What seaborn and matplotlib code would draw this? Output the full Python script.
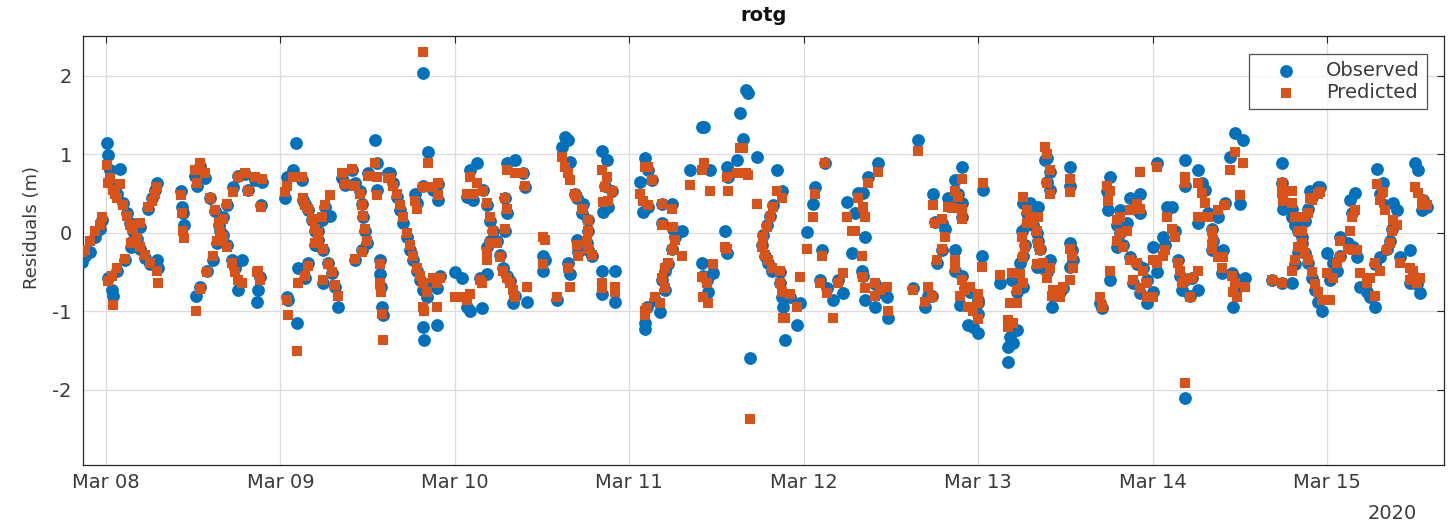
import matplotlib
matplotlib.use("Agg")
import matplotlib.pyplot as plt
import pandas as pd
import seaborn as sns

# hours since 2020-03-08 00:00
hours = [
    -3.3, -2.9, -2.2, -1.5, -0.8, -0.55,
    0.14, 0.28, 0.55, 0.96, 1.24, 1.5, 1.93, 2.3, 2.9, 3.3, 3.7, 4.3, 4.7, 5.4, 6.1, 7.0, 7.2,
    0.3, 0.8, 0.96, 1.5, 2.6, 3.4, 3.7, 4.7, 5.8, 6.4, 6.7, 7.0,
    10.3, 10.5, 10.6, 10.8,
    12.3, 12.9, 13.6, 12.5, 14.3, 15.0, 15.6, 16.1, 16.6, 17.4, 17.8,
    12.4, 12.9, 13.9, 14.7, 15.3, 15.7, 16.1, 16.7, 17.5,
    18.2, 19.1, 19.5, 20.5, 21.5, 21.3, 18.2, 18.7, 20.8, 20.9, 21.2,
    24.6, 24.9, 25.7, 27.0, 27.1, 24.9, 25.0, 26.3, 26.2,
    27.4, 27.8, 28.3, 28.8, 29.2, 29.9, 30.5, 31.1, 31.5, 31.9,
    26.4, 27.4, 27.8, 28.8, 29.2, 29.7, 30.1, 30.8, 29.9,
    32.5, 32.9, 33.9, 34.3, 35.0, 35.2, 35.4, 35.6, 35.9, 35.2, 34.3, 36.1,
    37.0, 37.3, 37.3, 38.8, 37.7, 37.7, 37.8, 38.0, 38.1,
    39.1, 39.5, 40.0, 40.5, 40.9, 41.4, 41.8, 42.2, 42.8, 43.2, 43.6, 44.2, 42.5, 42.8,
    43.6, 44.3, 43.6, 45.0, 45.7, 45.7, 43.6, 43.7, 45.6, 45.0, 45.5, 46.0,
    48.0, 49.0, 49.7, 50.1, 51.7, 51.5, 52.4, 52.4, 52.8,
    50.1, 51.0, 49.7, 50.5,
    51.9, 52.4, 52.8, 53.2, 53.8, 54.2, 54.6, 55.2, 55.6, 56.0, 56.3, 57.9,
    55.2, 56.3, 57.4, 57.7, 54.9, 55.2, 54.9,
    60.1, 60.1, 60.4, 62.1, 63.6, 63.8,
    62.8, 63.2, 63.6, 63.9, 64.5, 64.8, 65.5, 65.6, 66.3, 66.3, 66.2, 66.3, 66.9, 64.9, 64.8,
    68.3, 68.9, 68.7, 69.6, 69.1, 68.4, 68.3, 70.0, 68.3, 70.0,
    74.2, 74.6, 75.1, 73.5, 73.9, 74.6, 76.5, 77.9, 76.5, 78.0, 78.3, 77.9, 77.3, 76.9, 76.5, 76.9,
    75.5, 74.4, 76.2, 74.2, 74.2, 79.3, 80.4,
    82.0, 82.3, 83.1, 82.0, 82.2, 82.7, 82.8, 83.5, 85.2, 85.5, 85.5, 85.6, 86.8, 87.2, 87.7, 88.0,
    88.4, 88.6, 89.6,
    92.3, 93.0, 91.8, 91.4, 91.0, 90.4, 90.3, 90.7, 91.1, 91.6, 92.7, 92.7, 93.0, 93.2, 93.4, 95.1,
    95.5, 94.1,
    97.6, 97.3, 96.5, 98.5, 98.9, 98.3, 99.2, 100.0, 100.7, 101.4, 102.0, 102.6, 103.5,
    103.1, 104.2, 104.4, 104.0, 104.9, 106.2, 104.2, 105.8, 106.5, 107.5, 104.4, 105.8, 107.6,
    111.7, 111.0, 113.1, 112.7, 113.7,
    113.8, 114.1, 115.0, 115.9, 116.4, 116.8, 117.2, 117.8, 117.8, 117.8, 115.5, 115.0, 114.4, 116.8,
    116.8, 117.8, 118.2, 117.5, 118.9, 120.0, 120.0, 118.6, 120.0, 120.0, 119.3, 120.7, 120.5,
    123.0, 124.7, 124.4, 124.1, 124.1, 124.8, 125.4, 125.4, 125.8, 126.2, 126.5, 126.0, 126.7, 126.2,
    126.7, 127.1, 127.6, 128.1, 128.2, 128.5, 128.2, 126.2,
    128.1, 128.9, 129.5, 129.9, 130.3, 130.2, 131.3, 131.7, 132.6, 133.1, 132.6, 132.9, 129.2, 129.5,
    129.9, 129.5, 129.9, 132.6, 132.7,
    136.8, 137.1, 138.2, 138.2, 137.7, 137.9, 139.5, 139.1, 139.5, 139.1, 139.9, 140.5, 140.9, 142.3,
    141.9, 142.3, 144.6, 140.9, 141.9, 142.7, 141.3, 142.3, 143.2, 144.1, 143.2, 144.1, 145.4, 144.6,
    146.0,
    145.7, 146.7, 147.1, 147.5, 148.5, 148.5, 147.8, 148.5, 148.1, 149.2, 150.3, 149.4, 148.5,
    150.3, 150.8, 151.2, 151.6, 152.2, 152.3, 152.2, 153.0, 153.7, 153.6, 154.9, 155.4, 155.6, 155.1,
    156.7, 150.3, 153.0, 154.0,
    155.4, 156.5, 154.7, 156.0,
    160.4, 161.8, 161.8, 161.8, 161.9, 163.2, 163.2, 163.6, 164.0, 164.6, 165.0, 165.4, 165.9, 166.4,
    166.8, 167.3, 163.2, 163.6, 164.0, 164.6, 165.0, 165.4, 165.9, 166.8, 167.0, 165.7, 168.0, 168.4,
    168.8, 169.4, 169.8,
    169.8, 170.9, 171.2, 171.5, 171.9, 171.6, 172.1,
    172.6, 173.5, 173.9, 174.6, 174.6, 175.3,
    174.9, 175.7, 175.3, 176.0, 177.1, 177.6, 177.0, 176.7, 176.3, 178.1, 179.4, 179.8, 180.4, 180.8,
    179.4, 180.1, 180.5, 181.2, 181.8, 181.1,
]

observed = [
    -0.37, -0.30, -0.25, -0.05, 0.05, 0.16,
    1.14, 0.99, 0.80, 0.60, 0.55, 0.50, 0.82, 0.38, 0.25, 0.12, 0.03, -0.08, -0.20, -0.32, -0.40, -0.35, -0.45,
    -0.57, -0.73, -0.80, -0.48, -0.35, -0.18, -0.10, 0.08, 0.30, 0.45, 0.55, 0.63,
    0.54, 0.33, 0.25, 0.10,
    0.72, 0.85, 0.70, 0.60, 0.45, 0.28, 0.10, -0.03, -0.15, -0.35, -0.45,
    -0.80, -0.69, -0.48, -0.35, -0.13, 0.03, 0.20, 0.35, 0.58,
    0.72, 0.75, 0.55, 0.68, 0.65, 0.35, -0.73, -0.35, -0.88, -0.73, -0.56,
    0.45, 0.71, 0.80, 0.68, 0.42, -0.82, -0.86, -1.15, 1.15,
    0.37, 0.29, 0.16, 0.03, -0.09, -0.22, -0.39, -0.51, -0.69, -0.95,
    -0.45, -0.57, -0.39, -0.15, 0.03, 0.16, 0.33, 0.22, -0.64,
    0.70, 0.61, 0.80, 0.63, 0.54, 0.37, 0.20, 0.03, -0.13, -0.22, -0.35, 0.76,
    1.18, 0.89, 0.55, 0.76, -0.35, -0.52, -0.69, -0.95, -1.05,
    0.76, 0.63, 0.46, 0.29, 0.12, -0.05, -0.22, -0.35, -0.48, -0.60, -0.73, -0.82, 0.50, 0.38,
    2.04, 1.03, 0.60, 0.55, 0.62, 0.42, -1.20, -1.37, -1.18, -0.64, -0.70, -0.55,
    -0.50, -0.58, -0.95, -0.99, -0.96, -0.57, -0.52, -0.18, -0.10,
    0.80, 0.89, 0.46, 0.42,
    0.55, 0.35, 0.15, 0.03, -0.10, -0.28, -0.45, -0.55, -0.62, -0.90, -0.80, -0.88,
    0.89, 0.93, 0.76, 0.58, 0.45, 0.25, 0.03,
    -0.30, -0.48, -0.35, -0.86, -0.39, -0.52,
    1.09, 1.22, 1.18, 0.90, 0.50, 0.45, 0.25, 0.37, 0.16, 0.03, -0.13, -0.22, -0.30, -0.25, -0.09,
    1.05, 0.93, 0.60, 0.54, 0.33, 0.26, -0.48, -0.48, -0.78, -0.88,
    0.95, 0.80, 0.68, 0.65, 0.26, 0.33, 0.37, 0.37, 0.12, 0.05, -0.05, -0.20, -0.40, -0.48, -0.60, -0.73,
    -0.85, -0.95, -1.01, -1.22, -1.15, 0.03, 0.80,
    1.35, 1.35, 0.80, -0.39, -0.55, -0.60, -0.75, -0.51, 0.03, -0.26, 0.84, 0.71, 0.93, 1.53, 1.20, 1.82,
    1.78, -1.60, 0.97,
    0.80, 0.54, 0.35, 0.22, 0.10, -0.03, -0.15, -0.30, -0.39, -0.48, -0.50, -0.64, -0.82, -0.95, -1.37, -1.18,
    -0.90, -0.82,
    0.58, 0.37, 0.01, -0.22, 0.89, -0.60, -0.70, -0.85, -0.60, -0.77, 0.39, -0.26, 0.51,
    0.25, 0.51, -0.05, -0.48, 0.71, 0.89, -0.55, -0.65, -0.75, -0.82, -0.86, -0.95, -1.09,
    1.18, -0.70, -0.80, -0.95, -0.80,
    0.50, 0.14, 0.12, 0.45, 0.40, 0.67, 0.50, 0.84, 0.38, 0.20, 0.05, -0.22, -0.39, -0.22,
    -0.48, -0.55, -0.70, -0.92, -0.75, -0.85, -0.90, -1.18, -1.03, -1.28, -1.20, 0.55, -0.30,
    -0.64, -0.60, -1.33, -1.46, -1.65, -1.41, -1.24, -0.75, -0.39, -0.30, -0.15, 0.03, 0.10, 0.38,
    0.25, 0.38, 0.10, 0.00, -0.10, -0.20, 0.33, -0.69,
    -0.44, -0.45, -0.50, -0.35, -0.80, -0.95, -0.75, -0.70, -0.44, -0.35, -0.13, -0.22, 0.93, 0.95,
    0.78, 0.65, 0.55, 0.84, 0.60,
    -0.90, -0.96, -0.60, 0.71, 0.54, 0.29, 0.29, 0.10, 0.00, -0.18, -0.15, 0.12, 0.45, 0.50,
    0.29, 0.25, 0.89, -0.31, -0.40, -0.45, -0.64, -0.77, -0.90, -0.75, -0.60, -0.18, -0.05, -0.50,
    0.33,
    -0.15, 0.33, 0.03, -0.35, 0.93, 0.60, -0.55, -0.60, -0.73, -0.80, -0.73, -0.57, -2.11,
    0.80, 0.63, 0.55, 0.25, 0.05, -0.10, -0.22, -0.25, -0.22, -0.51, -0.51, -0.57, -0.70, -0.95,
    -0.58, 0.12, 0.20, 0.38,
    1.27, 1.18, 0.97, 0.37,
    -0.60, -0.64, 0.89, 0.63, 0.31, 0.30, 0.20, 0.10, 0.03, -0.13, -0.26, -0.39, -0.57, -0.73,
    -0.88, -0.99, -0.64, -0.40, -0.25, -0.05, 0.15, 0.30, 0.46, 0.58, 0.58, 0.54, -0.26, -0.60,
    -0.39, -0.48, -0.30,
    -0.05, -0.13, 0.42, 0.25, 0.51, -0.18, -0.31,
    -0.69, -0.75, -0.82, -0.95, -0.40, -0.31,
    0.82, 0.63, 0.50, 0.35, 0.38, 0.29, 0.05, -0.10, -0.20, -0.31, -0.22, -0.55, -0.65, -0.77,
    -0.64, 0.89, 0.80, 0.42, 0.33, 0.29,
]

predicted = [
    -0.25, -0.22, -0.10, 0.03, 0.10, 0.20,
    0.86, 0.63, 0.70, 0.55, 0.50, 0.45, 0.62, 0.36, 0.22, 0.10, 0.05, -0.06, -0.18, -0.28, -0.38, -0.48, -0.64,
    -0.62, -0.55, -0.92, -0.45, -0.33, -0.13, -0.12, 0.12, 0.33, 0.40, 0.50, 0.58,
    0.48, 0.25, 0.03, -0.07,
    0.80, 0.89, 0.76, 0.63, 0.45, 0.29, 0.12, -0.05, -0.18, -0.39, -0.50,
    -0.99, -0.72, -0.50, -0.30, -0.10, 0.00, 0.18, 0.37, 0.52,
    0.71, 0.76, 0.54, 0.71, 0.69, 0.33, -0.60, -0.64, -0.50, -0.48, -0.60,
    0.52, 0.60, 0.71, 0.71, 0.45, -0.86, -1.05, -1.50, 0.71,
    0.35, 0.30, 0.18, 0.05, -0.10, -0.20, -0.40, -0.50, -0.66, -0.80,
    -0.64, -0.55, -0.42, -0.13, 0.00, 0.20, 0.35, 0.48, -0.60,
    0.76, 0.62, 0.82, 0.60, 0.50, 0.35, 0.22, 0.05, -0.10, -0.25, -0.33, 0.72,
    0.89, 0.71, 0.48, 0.70, -0.40, -0.64, -0.75, -1.03, -1.37,
    0.70, 0.60, 0.50, 0.35, 0.20, 0.00, -0.15, -0.30, -0.45, -0.55, -0.64, -0.75, 0.40, 0.30,
    2.30, 0.89, 0.58, 0.58, 0.64, 0.48, -0.95, -1.00, -0.95, -0.57, -0.64, -0.57,
    -0.82, -0.82, -0.86, -0.78, -0.64, -0.60, -0.35, -0.25, -0.13,
    0.71, 0.63, 0.50, 0.50,
    0.54, 0.38, 0.20, 0.03, -0.13, -0.31, -0.48, -0.57, -0.64, -0.73, -0.82, -0.69,
    0.80, 0.76, 0.76, 0.60, 0.45, 0.31, 0.05,
    -0.05, -0.40, -0.09, -0.82, -0.45, -0.69,
    0.97, 0.84, 0.76, 0.67, 0.50, 0.46, 0.30, 0.30, 0.16, 0.03, -0.10, -0.20, -0.28, -0.30, -0.15,
    0.80, 0.71, 0.58, 0.54, 0.40, 0.39, -0.64, -0.69, -0.70, -0.75,
    0.84, 0.84, 0.67, 0.50, 0.40, 0.35, 0.37, 0.30, 0.10, 0.07, -0.09, -0.22, -0.39, -0.45, -0.57, -0.70,
    -0.82, -0.96, -0.90, -1.00, -1.05, -0.30, 0.61,
    0.80, 0.89, 0.54, -0.56, -0.82, -0.64, -0.90, -0.40, -0.18, -0.20, 0.71, 0.54, 0.76, 1.08, 1.08, 0.76,
    0.74, -2.37, 0.37,
    0.54, 0.45, 0.33, 0.20, 0.07, -0.05, -0.18, -0.28, -0.35, -0.45, -0.48, -0.64, -0.75, -1.09, -1.09, -0.95,
    -0.56, -0.78,
    0.50, 0.20, -0.20, -0.30, 0.89, -0.64, -0.77, -1.09, -0.64, -0.51, 0.20, 0.03, 0.45,
    0.03, 0.33, 0.20, -0.30, 0.63, 0.77, -0.56, -0.64, -0.73, -0.69, -0.70, -0.80, -0.99,
    1.05, -0.73, -0.69, -0.88, -0.82,
    0.35, 0.12, 0.18, 0.33, 0.32, 0.54, 0.46, 0.69, 0.30, 0.18, -0.05, -0.20, -0.35, -0.35,
    -0.45, -0.60, -0.73, -0.80, -0.69, -0.78, -0.86, -0.95, -0.90, -1.10, -1.00, 0.63, -0.43,
    -0.54, -0.51, -0.90, -1.11, -1.20, -1.15, -0.90, -0.73, -0.52, -0.31, -0.18, -0.05, 0.12, 0.46,
    0.29, 0.20, 0.12, 0.03, -0.13, -0.22, 0.20, -0.64,
    -0.40, -0.39, -0.57, -0.45, -0.73, -0.80, -0.82, -0.69, -0.60, -0.45, -0.20, -0.30, 1.09, 1.00,
    0.80, 0.63, 0.50, 0.69, 0.52,
    -0.82, -0.95, -0.48, 0.54, 0.60, 0.40, 0.20, 0.16, 0.00, -0.10, -0.18, 0.03, 0.29, 0.77,
    0.37, 0.30, 0.84, -0.35, -0.39, -0.48, -0.60, -0.70, -0.82, -0.82, -0.64, -0.35, -0.30, -0.39,
    0.20,
    -0.22, 0.05, -0.05, -0.39, 0.71, 0.63, -0.48, -0.60, -0.64, -0.82, -0.48, -0.57, -1.92,
    0.63, 0.51, 0.38, 0.20, 0.03, -0.09, -0.20, -0.31, -0.31, -0.45, -0.55, -0.64, -0.82, -0.75,
    -0.69, 0.20, 0.29, 0.35,
    1.03, 0.89, 0.80, 0.48,
    -0.60, -0.64, 0.63, 0.51, 0.40, 0.54, 0.38, 0.20, 0.03, -0.13, -0.26, -0.35, -0.50, -0.65,
    -0.75, -0.86, -0.48, -0.35, -0.18, 0.03, 0.20, 0.25, 0.42, 0.50, 0.52, 0.45, -0.51, -0.86,
    -0.57, -0.39, -0.31,
    -0.10, -0.20, 0.03, 0.20, 0.29, -0.22, -0.22,
    -0.51, -0.64, -0.57, -0.80, -0.39, -0.48,
    0.62, 0.52, 0.42, 0.29, 0.16, 0.10, 0.03, -0.13, -0.22, -0.39, -0.45, -0.48, -0.64, -0.57,
    -0.60, 0.58, 0.51, 0.42, 0.35, 0.36,
]

series_labels = ["Observed", "Predicted"]
day_ticks = ["Mar 08", "Mar 09", "Mar 10", "Mar 11", "Mar 12", "Mar 13", "Mar 14", "Mar 15"]
y_ticks = [-2, -1, 0, 1, 2]

n = min(len(hours), len(observed), len(predicted))

sns.set_theme(style="white")
plt.rcParams["font.family"] = ["DejaVu Sans"]
plt.rcParams["axes.unicode_minus"] = False

t0 = pd.Timestamp("2020-03-08")
df = pd.DataFrame({
    "time": t0 + pd.to_timedelta(hours[:n], unit="h"),
    "Observed": observed[:n],
    "Predicted": predicted[:n],
})

fig = plt.figure(figsize=(14.55, 5.27), dpi=100)
ax = fig.add_axes([0.057, 0.1176, 0.9354, 0.8141])

sns.scatterplot(data=df, x="time", y="Observed", ax=ax, color="#0072BD", marker="o",
                s=85, linewidth=0, label=series_labels[0], zorder=3)
sns.scatterplot(data=df, x="time", y="Predicted", ax=ax, color="#D95319", marker="s",
                s=55, linewidth=0, label=series_labels[1], zorder=4)

ax.set_xlim(t0 + pd.Timedelta(hours=-3.17), t0 + pd.Timedelta(hours=184.1))
ax.set_ylim(-2.96, 2.51)
ax.set_xticks([t0 + pd.Timedelta(days=i) for i in range(len(day_ticks))])
ax.set_xticklabels(day_ticks)
ax.set_yticks(y_ticks)
ax.set_yticklabels([str(v) for v in y_ticks])

ax.set_axisbelow(True)
ax.grid(True, color="#dcdcdc", linewidth=0.9)
ax.tick_params(direction="in", top=True, right=True, length=5, width=0.8,
               color="#262626", labelcolor="#3a3a3a", labelsize=14)
ax.tick_params(axis="x", pad=6, labeltop=False)
ax.tick_params(axis="y", pad=8, labelright=False)
for sp in ax.spines.values():
    sp.set_color("#262626")
    sp.set_linewidth(0.9)

ax.set_xlabel("")
ax.set_ylabel("Residuals (m)", fontsize=13, color="#3a3a3a")
ax.yaxis.set_label_coords(-0.031, 0.553)
ax.set_title("rotg", fontsize=14, fontweight="bold", color="#111111", pad=11)
ax.text(0.962, -0.114, "2020", transform=ax.transAxes, ha="center", va="center",
        fontsize=14, color="#3a3a3a")

leg = ax.legend(loc="upper right", bbox_to_anchor=(0.9875, 0.958), borderaxespad=0,
                frameon=True, fancybox=False, fontsize=14, handletextpad=0.5,
                handlelength=3.1, borderpad=0.35, labelspacing=0.15, markerscale=1.0)
leg.get_frame().set_edgecolor("#262626")
leg.get_frame().set_linewidth(0.9)
for txt in leg.get_texts():
    txt.set_color("#3a3a3a")

fig.savefig("out.png", dpi=100)
